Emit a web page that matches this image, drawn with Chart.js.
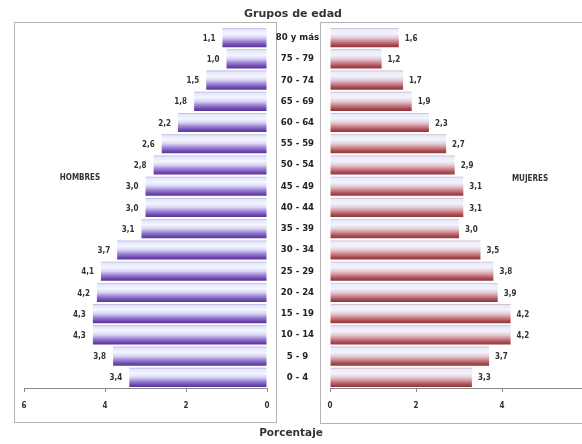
<!DOCTYPE html>
<html>
<head>
<meta charset="utf-8">
<script src="https://cdn.jsdelivr.net/npm/chart.js@4"></script>
<style>
  html, body { margin: 0; padding: 0; background: #fff; }
  body { width: 582px; height: 444px; overflow: hidden; position: relative; font-family: 'DejaVu Sans', 'Liberation Sans', sans-serif; }
  .panel { position: absolute; border: 1px solid #b4b4b4; box-sizing: border-box; pointer-events: none; }
  canvas { position: absolute; left: 0; top: 0; }
  .txt { position: absolute; color: #333; font-weight: bold; white-space: nowrap; transform: translate(-50%, -50%); }
  .narrow { font-family: 'Liberation Sans Narrow', 'DejaVu Sans Condensed', 'Liberation Sans', sans-serif; }
</style>
</head>
<body>
<div class="panel" style="left:14px;top:22px;width:263px;height:401px;"></div>
<div class="panel" style="left:320px;top:22px;width:320px;height:402px;"></div>
<div style="position:absolute;left:0;top:0;width:582px;height:444px;">
  <canvas id="hombres"></canvas>
</div>
<div style="position:absolute;left:0;top:0;width:620px;height:444px;">
  <canvas id="mujeres"></canvas>
</div>
<div class="txt" style="left:293px;top:13px;font-size:11px;">Grupos de edad</div>
<div class="txt" style="left:291px;top:432px;font-size:10.5px;">Porcentaje</div>
<div class="txt narrow" style="left:80px;top:177px;font-size:8px;">HOMBRES</div>
<div class="txt narrow" style="left:530px;top:178px;font-size:8px;">MUJERES</div>
<script>
// Pirámide de población (porcentaje por grupo de edad)
const NARROW = "'Liberation Sans Narrow', 'DejaVu Sans Condensed', 'Liberation Sans', sans-serif";

const gruposEdad = ['0 - 4', '5 - 9', '10 - 14', '15 - 19', '20 - 24', '25 - 29', '30 - 34', '35 - 39',
                    '40 - 44', '45 - 49', '50 - 54', '55 - 59', '60 - 64', '65 - 69', '70 - 74', '75 - 79', '80 y más'];
const hombres = [3.4, 3.8, 4.3, 4.3, 4.2, 4.1, 3.7, 3.1, 3.0, 3.0, 2.8, 2.6, 2.2, 1.8, 1.5, 1.0, 1.1];
const mujeres = [3.3, 3.7, 4.2, 4.2, 3.9, 3.8, 3.5, 3.0, 3.1, 3.1, 2.9, 2.7, 2.3, 1.9, 1.7, 1.2, 1.6];
const ticksPct = [0, 2, 4, 6];

const STOPS_H = [[0, '#b9b5dd'], [0.08, '#e4e6fb'], [0.3, '#f4f6ff'], [0.5, '#d8d5f5'], [0.68, '#a48bd8'], [0.86, '#7350b5'], [1, '#5a3494']];
const STOPS_M = [[0, '#d2b4bc'], [0.08, '#e9ecfb'], [0.3, '#f1f3ff'], [0.5, '#e6cdd5'], [0.68, '#cf8e96'], [0.86, '#ad4e56'], [1, '#8c363e']];

// degradado vertical por barra, calculado desde la escala de categorías
function barGradient(stops) {
    return (c) => {
        const chart = c.chart;
        const y = chart.scales.y;
        if (!y || c.dataIndex === undefined) return stops[4][1];
        const yc = y.getPixelForValue(c.dataIndex);
        const h = Math.abs(y.getPixelForValue(1) - y.getPixelForValue(0)) * 0.9;
        if (!isFinite(yc) || !isFinite(h) || h === 0) return stops[4][1];
        const g = chart.ctx.createLinearGradient(0, yc - h / 2, 0, yc + h / 2);
        stops.forEach(s => g.addColorStop(s[0], s[1]));
        return g;
    };
}

const valueLabels = {
    id: 'valueLabels',
    afterDatasetsDraw(chart, args, opts) {
        const { ctx } = chart;
        const meta = chart.getDatasetMeta(0);
        ctx.save();
        ctx.font = 'bold 8px ' + NARROW;
        ctx.fillStyle = '#333';
        ctx.textBaseline = 'middle';
        ctx.textAlign = opts.side === 'left' ? 'right' : 'left';
        meta.data.forEach((el, i) => {
            const v = chart.data.datasets[0].data[i];
            const x = opts.side === 'left' ? el.x - 7 : el.x + 6;
            ctx.fillText(v.toFixed(1).replace('.', ','), x, el.y + 1);
        });
        ctx.restore();
    }
};

function xScale(reverse) {
    return {
        type: 'linear',
        min: 0,
        max: 6,
        reverse,
        afterBuildTicks: s => { s.ticks = ticksPct.map(v => ({ value: v })); },
        afterFit: s => { s.height = 30; },
        grid: { drawOnChartArea: false, drawTicks: true, tickLength: 4, color: '#8a8a8a' },
        border: { display: true, color: '#8a8a8a' },
        ticks: { padding: 9, color: '#333', font: { family: NARROW, size: 8, weight: 'bold' } }
    };
}

new Chart(document.getElementById('hombres'), {
    type: 'bar',
    data: {
        labels: gruposEdad,
        datasets: [{
            label: 'HOMBRES',
            data: hombres,
            backgroundColor: barGradient(STOPS_H),
            borderWidth: 0,
            categoryPercentage: 1,
            barPercentage: 0.9
        }]
    },
    options: {
        indexAxis: 'y',
        responsive: true,
        maintainAspectRatio: false,
        animation: false,
        layout: { padding: { left: 24, right: 315, top: 27, bottom: 26 } },
        plugins: {
            legend: { display: false },
            tooltip: { enabled: false },
            valueLabels: { side: 'left' }
        },
        scales: {
            x: xScale(true),
            y: { reverse: true, display: false }
        }
    },
    plugins: [valueLabels]
});

new Chart(document.getElementById('mujeres'), {
    type: 'bar',
    data: {
        labels: gruposEdad,
        datasets: [{
            label: 'MUJERES',
            data: mujeres,
            backgroundColor: barGradient(STOPS_M),
            borderWidth: 0,
            categoryPercentage: 1,
            barPercentage: 0.9
        }]
    },
    options: {
        indexAxis: 'y',
        responsive: true,
        maintainAspectRatio: false,
        animation: false,
        layout: { padding: { left: 270, right: 32, top: 27, bottom: 26 } },
        plugins: {
            legend: { display: false },
            tooltip: { enabled: false },
            valueLabels: { side: 'right' }
        },
        scales: {
            x: xScale(false),
            y: {
                reverse: true,
                position: 'left',
                afterFit: s => { s.width = 60; },
                grid: { display: false, drawTicks: false },
                border: { display: false },
                ticks: {
                    crossAlign: 'center',
                    padding: 11,
                    color: '#222',
                    font: { family: NARROW, size: 9.5, weight: 'bold' }
                }
            }
        }
    },
    plugins: [valueLabels]
});
</script>
</body>
</html>
